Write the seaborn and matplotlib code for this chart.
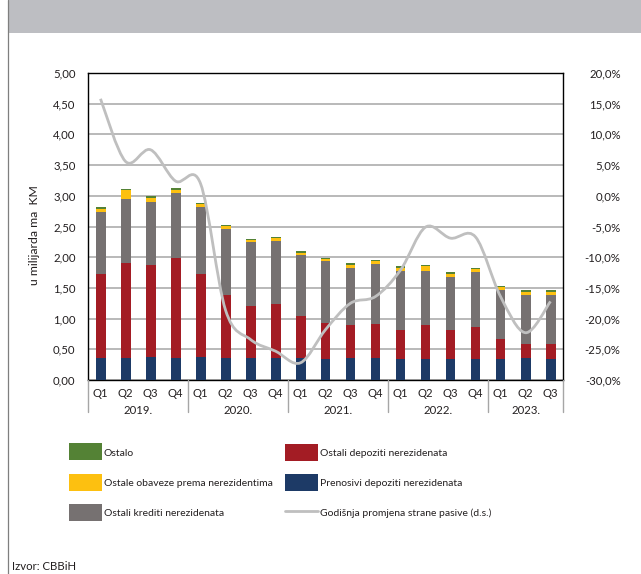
import numpy as np
import pandas as pd
import matplotlib
matplotlib.use("Agg")
import matplotlib.pyplot as plt
import seaborn as sns
from matplotlib.path import Path
from matplotlib.patches import PathPatch, Rectangle
from matplotlib.lines import Line2D
from matplotlib.transforms import blended_transform_factory
from matplotlib.ticker import FuncFormatter

# ---- data (billions KM, quarterly) ----
quarters = ["Q1", "Q2", "Q3", "Q4"] * 4 + ["Q1", "Q2", "Q3"]
years = ["2019.", "2020.", "2021.", "2022.", "2023."]
year_sizes = [4, 4, 4, 4, 3]

prenosivi = [0.36, 0.36, 0.38, 0.36, 0.38, 0.36, 0.36, 0.36, 0.36, 0.35,
             0.36, 0.36, 0.35, 0.35, 0.35, 0.35, 0.35, 0.36, 0.35]
ostali_depoziti = [1.37, 1.55, 1.49, 1.63, 1.35, 1.03, 0.85, 0.87, 0.69, 0.58,
                   0.53, 0.55, 0.47, 0.54, 0.47, 0.51, 0.31, 0.23, 0.24]
ostali_krediti = [1.01, 1.03, 1.03, 1.06, 1.08, 1.07, 1.03, 1.03, 0.98, 1.01,
                  0.94, 0.98, 0.96, 0.89, 0.86, 0.90, 0.80, 0.80, 0.80]
ostale_obaveze = [0.05, 0.15, 0.07, 0.05, 0.05, 0.05, 0.04, 0.05, 0.04, 0.03,
                  0.04, 0.05, 0.05, 0.07, 0.05, 0.04, 0.05, 0.05, 0.05]
ostalo = [0.02, 0.02, 0.02, 0.03, 0.02, 0.02, 0.02, 0.02, 0.03, 0.02,
          0.03, 0.02, 0.02, 0.02, 0.03, 0.03, 0.02, 0.02, 0.02]
# annual change of foreign liabilities, % (right axis)
godisnja_promjena = [15.8, 5.6, 7.5, 2.4, 2.0, -18.6, -23.4, -25.3, -27.2, -21.8,
                     -17.5, -16.4, -12.1, -5.1, -6.9, -6.7, -16.4, -22.3, -17.2]

periods = []
for y, n in zip(years, year_sizes):
    periods += [f"{y} Q{k + 1}" for k in range(n)]

df = pd.DataFrame({
    "period": periods,
    "Prenosivi depoziti nerezidenata": prenosivi,
    "Ostali depoziti nerezidenata": ostali_depoziti,
    "Ostali krediti nerezidenata": ostali_krediti,
    "Ostale obaveze prema nerezidentima": ostale_obaveze,
    "Ostalo": ostalo,
})

stack_order = ["Prenosivi depoziti nerezidenata", "Ostali depoziti nerezidenata",
               "Ostali krediti nerezidenata", "Ostale obaveze prema nerezidentima",
               "Ostalo"]
colors = {
    "Prenosivi depoziti nerezidenata": "#1D3A66",
    "Ostali depoziti nerezidenata": "#A31C24",
    "Ostali krediti nerezidenata": "#767171",
    "Ostale obaveze prema nerezidentima": "#FDC010",
    "Ostalo": "#548235",
}
line_color = "#BFBFBF"

# cumulative tops for stacking
cum = df[stack_order].cumsum(axis=1)
cum["period"] = df["period"]

sns.set_theme(style="white")
plt.rcParams["font.family"] = ["Lato", "DejaVu Sans"]
plt.rcParams["text.color"] = "#231F20"
FS = 8.2
LEG_FS = 7.5

W, H = 641, 574
fig = plt.figure(figsize=(W / 100, H / 100), dpi=100)
fig.patch.set_facecolor("white")

def fx(px):
    return px / W

def fy(py):
    return 1 - py / H

ax_l, ax_r, ax_t, ax_b = 88, 563, 73, 380
ax = fig.add_axes([fx(ax_l), fy(ax_b), fx(ax_r - ax_l), (ax_b - ax_t) / H])

# draw stacks from the tallest cumulative down so each layer shows its own band
for name in reversed(stack_order):
    sns.barplot(data=cum, x="period", y=name, order=periods, color=colors[name],
                saturation=1, width=0.4, errorbar=None, linewidth=0, ax=ax,
                zorder=3)

ax.set_xlim(-0.5, len(periods) - 0.5)
ax.set_ylim(0, 5)
ax.set_yticks(np.arange(0, 5.01, 0.5))
ax.yaxis.set_major_formatter(FuncFormatter(lambda v, _: f"{v:.2f}".replace(".", ",")))
ax.set_xticks(range(len(periods)))
ax.set_xticklabels(quarters)
ax.set_xlabel("")
ax.set_ylabel("")
ax.grid(axis="y", color="#A6A6A6", linewidth=1.1, zorder=0)
ax.set_axisbelow(True)
ax.tick_params(axis="x", length=0, pad=6, labelsize=FS, colors="#231F20")
ax.tick_params(axis="y", length=0, pad=9, labelsize=FS, colors="#231F20")
for s in ax.spines.values():
    s.set_color("black")
    s.set_linewidth(1.0)

# year labels and group separators under the category axis
trans = blended_transform_factory(ax.transData, ax.transAxes)
start = 0
bounds = [-0.5]
for y, n in zip(years, year_sizes):
    ax.text(start + (n - 1) / 2, -0.098, y, transform=trans, ha="center",
            va="center", fontsize=FS)
    start += n
    bounds.append(start - 0.5)
for b in bounds:
    ax.plot([b, b], [0, -0.103], transform=trans, color="#A6A6A6", lw=1.0,
            clip_on=False, zorder=5)

# right axis: annual change, smooth curve through the quarterly points
ax2 = ax.twinx()
ax2.set_ylim(-30, 20)
ax2.set_yticks(np.arange(-30, 20.1, 5))
ax2.yaxis.set_major_formatter(FuncFormatter(lambda v, _: f"{v:.1f}%".replace(".", ",")))
ax2.tick_params(axis="y", length=0, pad=41.5, labelsize=FS, colors="#231F20")
for lab in ax2.get_yticklabels():
    lab.set_horizontalalignment("right")
ax2.grid(False)
for s in ax2.spines.values():
    s.set_visible(False)

xs = np.arange(len(godisnja_promjena), dtype=float)
ys = np.asarray(godisnja_promjena, dtype=float)
pts = np.column_stack([xs, ys])
ext = np.vstack([pts[0], pts, pts[-1]])
verts = [tuple(pts[0])]
codes = [Path.MOVETO]
for i in range(len(pts) - 1):
    p0, p1, p2, p3 = ext[i], ext[i + 1], ext[i + 2], ext[i + 3]
    c1 = p1 + (p2 - p0) / 6.0
    c2 = p2 - (p3 - p1) / 6.0
    verts += [tuple(c1), tuple(c2), tuple(p2)]
    codes += [Path.CURVE4] * 3
ax2.add_patch(PathPatch(Path(verts, codes), facecolor="none",
                        edgecolor=line_color, lw=2.0, zorder=6))

# y-axis title
fig.text(fx(34), fy(235), "u milijarda ma  KM", rotation=90, ha="center",
         va="center", fontsize=8.8)

# header band and left frame line
fig.patches.append(Rectangle((fx(8), fy(33)), 1, 33 / H, transform=fig.transFigure,
                             facecolor="#BDBEC2", edgecolor="none", zorder=0))
fig.lines.append(Line2D([fx(7.5), fx(7.5)], [0, 1], transform=fig.transFigure,
                        color="#7F7F7F", lw=0.9))

# legend
legend_items = [
    ("patch", colors["Ostalo"], "Ostalo", 69, 451),
    ("patch", colors["Ostale obaveze prema nerezidentima"],
     "Ostale obaveze prema nerezidentima", 69, 482),
    ("patch", colors["Ostali krediti nerezidenata"], "Ostali krediti nerezidenata", 69, 512),
    ("patch", colors["Ostali depoziti nerezidenata"], "Ostali depoziti nerezidenata", 285, 452),
    ("patch", colors["Prenosivi depoziti nerezidenata"],
     "Prenosivi depoziti nerezidenata", 285, 482),
    ("line", line_color, "Godišnja promjena strane pasive (d.s.)", 285, 511),
]
for kind, col, label, x0, yc in legend_items:
    if kind == "patch":
        fig.patches.append(Rectangle((fx(x0), fy(yc + 8.5)), 33 / W, 17 / H,
                                     transform=fig.transFigure, facecolor=col,
                                     edgecolor="none"))
    else:
        fig.lines.append(Line2D([fx(x0), fx(x0 + 33)], [fy(yc), fy(yc)],
                                transform=fig.transFigure, color=col, lw=2.0))
    fig.text(fx(x0 + 35), fy(yc + 2), label, ha="left", va="center", fontsize=LEG_FS)

fig.text(fx(12), fy(567), "Izvor: CBBiH", ha="left", va="center", fontsize=FS)

fig.savefig("out.png", dpi=100)
